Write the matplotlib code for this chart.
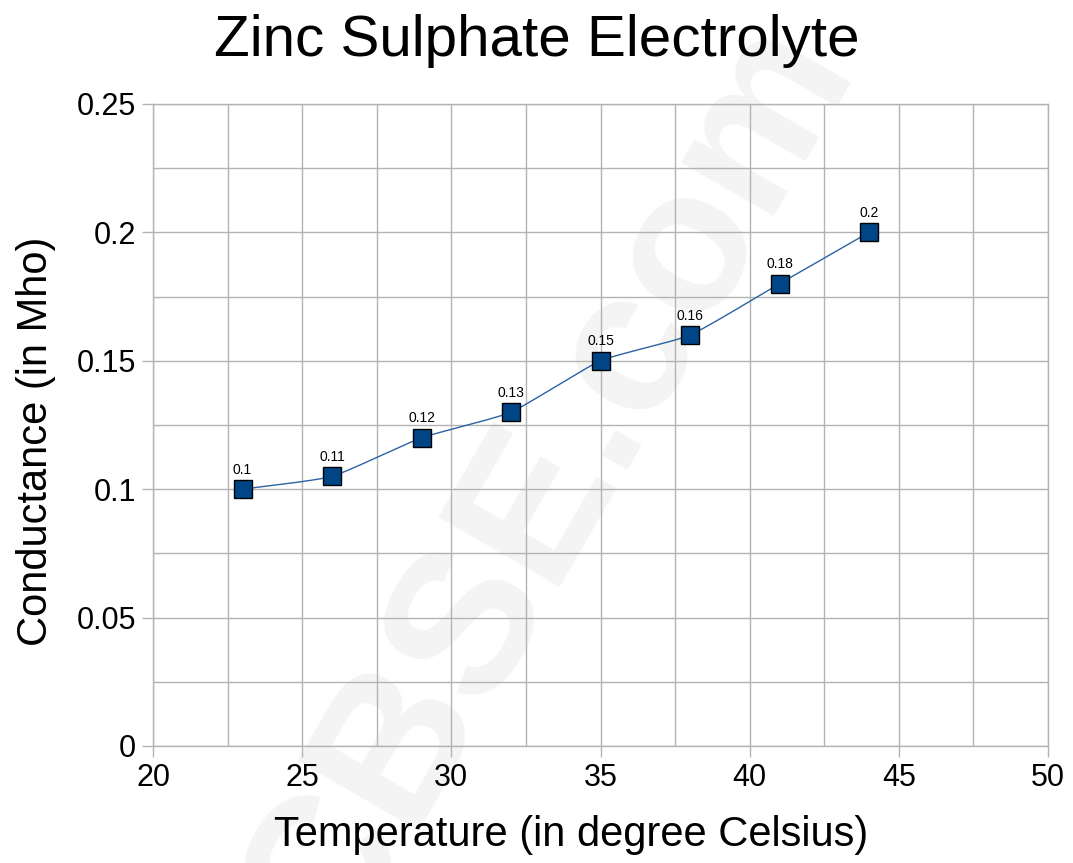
import numpy as np
import matplotlib
matplotlib.use("Agg")
import matplotlib.pyplot as plt
from matplotlib.ticker import MultipleLocator

plt.rcParams["font.family"] = ["Liberation Sans", "DejaVu Sans"]

TEMPERATURE = [23, 26, 29, 32, 35, 38, 41, 44]
CONDUCTANCE = [0.1, 0.105, 0.12, 0.13, 0.15, 0.16, 0.18, 0.2]
POINT_LABELS = ["0.1", "0.11", "0.12", "0.13", "0.15", "0.16", "0.18", "0.2"]

TITLE = "Zinc Sulphate Electrolyte"
XLABEL = "Temperature (in degree Celsius)"
YLABEL = "Conductance (in Mho)"

BLUE = "#004586"
LINE_BLUE = "#2a63a3"
GRID = "#b3b3b3"


def cardinal_curve(xs, ys, tension=0.5, steps=40):
    # parametric cardinal spline: near-straight segments with soft corners
    x = np.array(xs, float)
    y = np.array(ys, float)
    n = len(x)
    s = 1 - tension
    mx = np.zeros(n)
    my = np.zeros(n)
    for k in range(n):
        a = max(k - 1, 0)
        b = min(k + 1, n - 1)
        mx[k] = s * (x[b] - x[a]) / (b - a) 
        my[k] = s * (y[b] - y[a]) / (b - a)
    t = np.linspace(0, 1, steps)
    h00 = 2 * t ** 3 - 3 * t ** 2 + 1
    h10 = t ** 3 - 2 * t ** 2 + t
    h01 = -2 * t ** 3 + 3 * t ** 2
    h11 = t ** 3 - t ** 2
    out_x, out_y = [], []
    for i in range(n - 1):
        out_x.extend(h00 * x[i] + h10 * mx[i] + h01 * x[i + 1] + h11 * mx[i + 1])
        out_y.extend(h00 * y[i] + h10 * my[i] + h01 * y[i + 1] + h11 * my[i + 1])
    return np.array(out_x), np.array(out_y)


fig = plt.figure(figsize=(10.73, 8.63), dpi=100)
ax = fig.add_axes([0.1426, 0.1356, 0.8341, 0.7439])
ax.set_zorder(1)
ax.patch.set_alpha(0)

# faint watermark behind the grid
fig.text(0.512, 0.437, "CBSE.com", fontsize=146, fontweight="bold", color="#f4f4f4",
         rotation=60, ha="center", va="center", zorder=0)

ax.set_xlim(20, 50)
ax.set_ylim(0, 0.25)
ax.xaxis.set_major_locator(MultipleLocator(5))
ax.xaxis.set_minor_locator(MultipleLocator(2.5))
ax.yaxis.set_major_locator(MultipleLocator(0.05))
ax.yaxis.set_minor_locator(MultipleLocator(0.025))
ax.yaxis.set_major_formatter(plt.FuncFormatter(lambda v, _: f"{v:g}"))
ax.grid(True, which="both", color=GRID, linewidth=1)
ax.tick_params(which="major", direction="out", length=8, width=1, color=GRID,
               labelsize=22, pad=4)
ax.tick_params(which="minor", length=0)
for s in ax.spines.values():
    s.set_color(GRID)
    s.set_linewidth(1)
ax.set_axisbelow(True)

sx, sy = cardinal_curve(TEMPERATURE, CONDUCTANCE)
ax.plot(sx, sy, color=LINE_BLUE, linewidth=1, zorder=3)
ax.plot(TEMPERATURE, CONDUCTANCE, linestyle="none", marker="s", markersize=13,
        markerfacecolor=BLUE, markeredgecolor="black", markeredgewidth=1, zorder=4)
for x, y, lab in zip(TEMPERATURE, CONDUCTANCE, POINT_LABELS):
    ax.annotate(lab, (x, y), xytext=(0, 9), textcoords="offset points",
                ha="center", va="bottom", fontsize=10)

fig.text(0.5, 0.953, TITLE, fontsize=42, ha="center", va="center")
ax.set_xlabel(XLABEL, fontsize=30)
ax.set_ylabel(YLABEL, fontsize=30)
ax.xaxis.set_label_coords(0.467, -0.107)
ax.yaxis.set_label_coords(-0.108, 0.475)

fig.savefig("out.png", dpi=100)
